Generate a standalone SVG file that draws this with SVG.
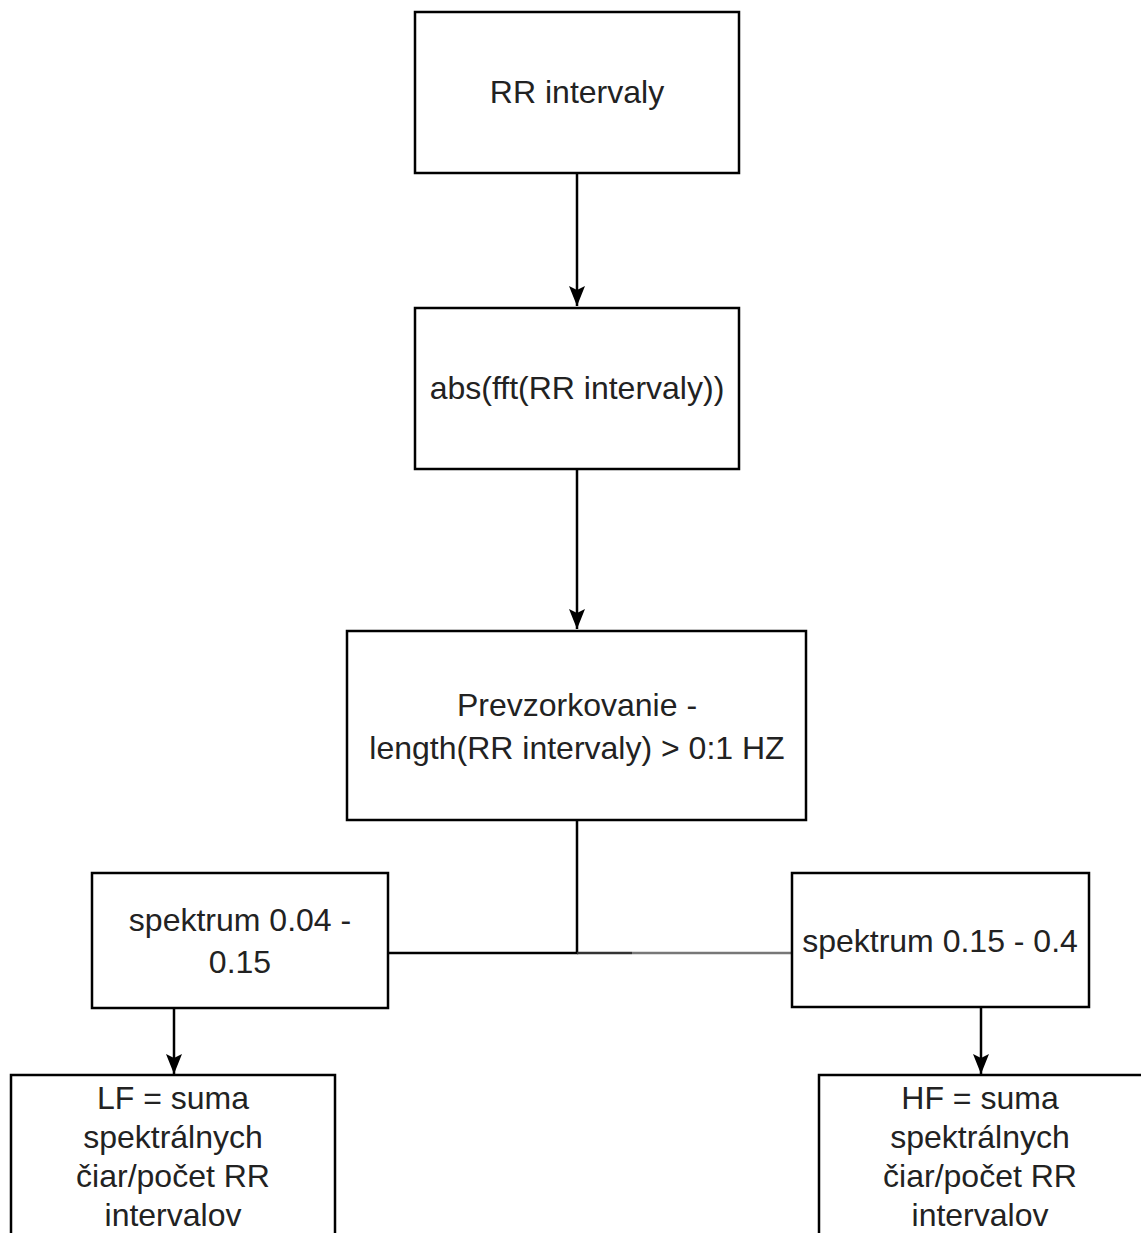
<svg xmlns="http://www.w3.org/2000/svg" width="1141" height="1233" viewBox="0 0 1141 1233">
<style>
.box{fill:#fff;stroke:#000;stroke-width:2.5}
.t{font-family:"Liberation Sans",Arial,sans-serif;font-size:32px;fill:#222;text-anchor:middle}
.c{fill:none;stroke:#000;stroke-width:2.5}
</style>
<defs>
<marker id="arr" viewBox="0 0 20 20" refX="20" refY="10" markerWidth="20" markerHeight="20" markerUnits="userSpaceOnUse" orient="auto">
<path d="M0,2 L20,10 L0,18 L4,10 z" fill="#000"/>
</marker>
</defs>
<rect width="1141" height="1233" fill="#fff"/>
<g id="connectors">
<path class="c" d="M577,174 V306" marker-end="url(#arr)"/>
<path class="c" d="M577,470 V629" marker-end="url(#arr)"/>
<path class="c" d="M577,821 V953 H389"/>
<path d="M577,953 H632" stroke="#333" stroke-width="2.5"/>
<path d="M632,953 H792" stroke="#777" stroke-width="2.5"/>
<path class="c" d="M174,1009 V1074" marker-end="url(#arr)"/>
<path class="c" d="M981,1008 V1074" marker-end="url(#arr)"/>
</g>
<g id="n1"><rect class="box" x="415" y="12" width="324" height="161"/><text class="t" x="577" y="103">RR intervaly</text></g>
<g id="n2"><rect class="box" x="415" y="308" width="324" height="161"/><text class="t" x="577" y="399">abs(fft(RR intervaly))</text></g>
<g id="n3"><rect class="box" x="347" y="631" width="459" height="189"/><text class="t" x="577" y="716">Prevzorkovanie -</text><text class="t" x="577" y="759">length(RR intervaly) &gt; 0:1 HZ</text></g>
<g id="n4"><rect class="box" x="92" y="873" width="296" height="135"/><text class="t" x="240" y="931">spektrum 0.04 -</text><text class="t" x="240" y="973">0.15</text></g>
<g id="n5"><rect class="box" x="792" y="873" width="297" height="134"/><text class="t" x="940" y="952">spektrum 0.15 - 0.4</text></g>
<g id="n6"><rect class="box" x="11" y="1075" width="324" height="170"/><text class="t" x="173" y="1109">LF = suma</text><text class="t" x="173" y="1148">spektrálnych</text><text class="t" x="173" y="1187">čiar/počet RR</text><text class="t" x="173" y="1226">intervalov</text></g>
<g id="n7"><rect class="box" x="819" y="1075" width="340" height="170"/><text class="t" x="980" y="1109">HF = suma</text><text class="t" x="980" y="1148">spektrálnych</text><text class="t" x="980" y="1187">čiar/počet RR</text><text class="t" x="980" y="1226">intervalov</text></g>
</svg>
